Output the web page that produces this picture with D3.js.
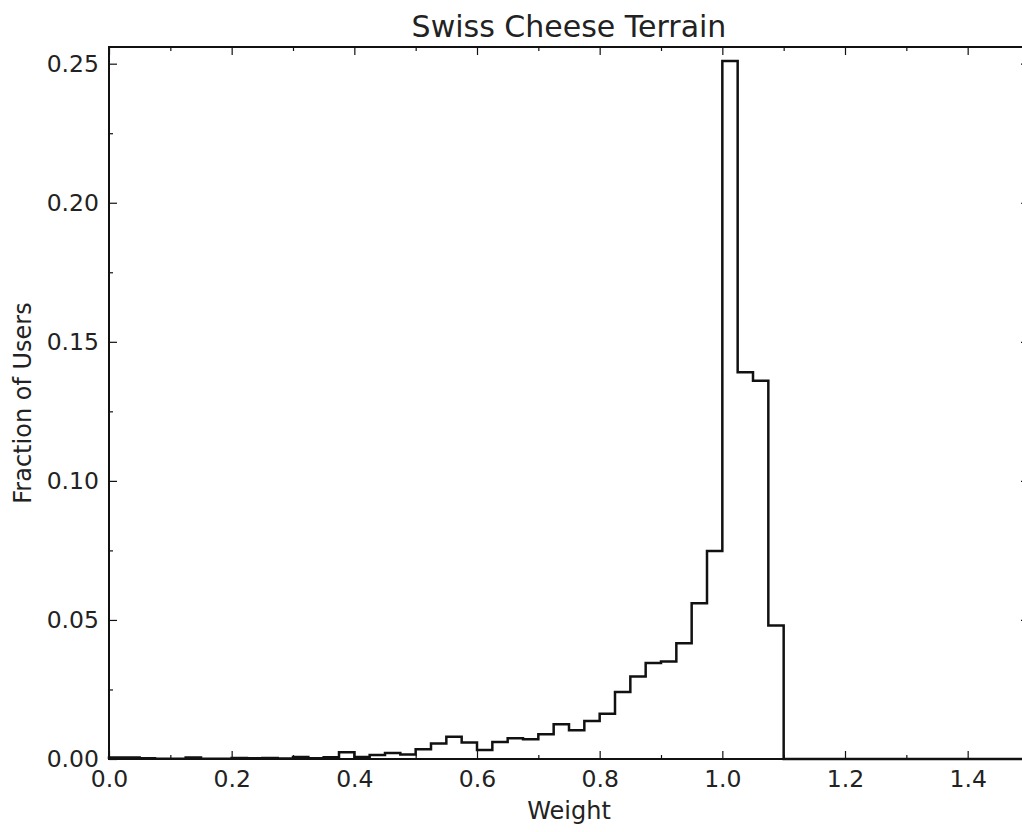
<!DOCTYPE html>
<html>
<head>
<meta charset="utf-8">
<script src="https://cdn.jsdelivr.net/npm/d3@7/dist/d3.min.js"></script>
<style>
  html, body { margin: 0; padding: 0; background: #fff; }
  svg { display: block; }
  text { font-family: "DejaVu Sans", sans-serif; fill: #222; }
</style>
</head>
<body>
<svg id="chart" width="1022" height="832"></svg>
<script>
// Histogram of user weights: fraction of users per 0.025-wide bin
const binWidth = 0.025;
const fractions = [
  0.0005, 0.0005, 0.0003, 0.0001, 0.0001, 0.0005, 0.0001, 0.0001, 0.0004, 0.0003,
  0.0004, 0.0002, 0.0007, 0.0003, 0.0006, 0.0024, 0.0007, 0.0014, 0.0022, 0.0016,
  0.0035, 0.0056, 0.0080, 0.0059, 0.0032, 0.0061, 0.0075, 0.0071, 0.0089, 0.0125,
  0.0103, 0.0137, 0.0163, 0.0241, 0.0297, 0.0345, 0.0351, 0.0416, 0.0560, 0.0748,
  0.2510, 0.1391, 0.1360, 0.0480
];
const histRange = [0, 1.5];
const xMajorTicks = [0.0, 0.2, 0.4, 0.6, 0.8, 1.0, 1.2, 1.4];
const xMinorTicks = [0.1, 0.3, 0.5, 0.7, 0.9, 1.1, 1.3, 1.5];
const yMajorTicks = [0.00, 0.05, 0.10, 0.15, 0.20, 0.25];
const yMinorTicks = [0.025, 0.075, 0.125, 0.175, 0.225];
const yMax = 0.256;

const svg = d3.select("#chart");
const plotL = 109, plotR = 1029, plotT = 47, plotB = 759;

const x = d3.scaleLinear().domain(histRange).range([plotL, plotR]);
const y = d3.scaleLinear().domain([0, yMax]).range([plotB, plotT]);

svg.append("rect").attr("width", 1022).attr("height", 832).attr("fill", "#fff");

// step outline of the histogram
const pts = [[histRange[0], 0]];
fractions.forEach((v, i) => pts.push([+(i * binWidth).toFixed(3), v]));
pts.push([+(fractions.length * binWidth).toFixed(3), 0]);
pts.push([histRange[1], 0]);

const line = d3.line()
  .x(d => x(d[0]))
  .y(d => y(d[1]))
  .curve(d3.curveStepAfter);

svg.append("path")
  .datum(pts)
  .attr("d", line)
  .attr("fill", "none")
  .attr("stroke", "#111")
  .attr("stroke-width", 2.5)
  .attr("stroke-linejoin", "miter");

// axes with inward ticks on all four sides
function styleAxis(g) {
  g.select(".domain").remove();
  g.selectAll(".tick line").attr("stroke", "#111").attr("stroke-width", 1.2);
  g.selectAll(".tick text")
    .style("font-family", "'DejaVu Sans', sans-serif")
    .style("font-size", "23.5px")
    .attr("fill", "#222");
}

svg.append("g").attr("transform", `translate(0,${plotB})`)
  .call(d3.axisBottom(x).tickValues(xMajorTicks).tickFormat(d3.format(".1f"))
    .tickSizeInner(-8).tickSizeOuter(0).tickPadding(11))
  .call(styleAxis);
svg.append("g").attr("transform", `translate(0,${plotB})`)
  .call(d3.axisBottom(x).tickValues(xMinorTicks).tickFormat("")
    .tickSizeInner(-4).tickSizeOuter(0))
  .call(styleAxis);
svg.append("g").attr("transform", `translate(0,${plotT})`)
  .call(d3.axisTop(x).tickValues(xMajorTicks).tickFormat("")
    .tickSizeInner(-8).tickSizeOuter(0))
  .call(styleAxis);
svg.append("g").attr("transform", `translate(0,${plotT})`)
  .call(d3.axisTop(x).tickValues(xMinorTicks).tickFormat("")
    .tickSizeInner(-4).tickSizeOuter(0))
  .call(styleAxis);

svg.append("g").attr("transform", `translate(${plotL},0)`)
  .call(d3.axisLeft(y).tickValues(yMajorTicks).tickFormat(d3.format(".2f"))
    .tickSizeInner(-8).tickSizeOuter(0).tickPadding(10))
  .call(styleAxis);
svg.append("g").attr("transform", `translate(${plotL},0)`)
  .call(d3.axisLeft(y).tickValues(yMinorTicks).tickFormat("")
    .tickSizeInner(-4).tickSizeOuter(0))
  .call(styleAxis);
svg.append("g").attr("transform", `translate(${plotR},0)`)
  .call(d3.axisRight(y).tickValues(yMajorTicks).tickFormat("")
    .tickSizeInner(-8).tickSizeOuter(0))
  .call(styleAxis);
svg.append("g").attr("transform", `translate(${plotR},0)`)
  .call(d3.axisRight(y).tickValues(yMinorTicks).tickFormat("")
    .tickSizeInner(-4).tickSizeOuter(0))
  .call(styleAxis);

// frame
svg.append("rect")
  .attr("x", plotL).attr("y", plotT)
  .attr("width", plotR - plotL).attr("height", plotB - plotT)
  .attr("fill", "none").attr("stroke", "#111").attr("stroke-width", 2);

// title and axis labels
svg.append("text")
  .attr("x", (plotL + plotR) / 2).attr("y", 37)
  .attr("text-anchor", "middle")
  .style("font-size", "30px")
  .text("Swiss Cheese Terrain");

svg.append("text")
  .attr("x", (plotL + plotR) / 2).attr("y", 819)
  .attr("text-anchor", "middle")
  .style("font-size", "24px")
  .text("Weight");

svg.append("text")
  .attr("transform", `translate(31,${(plotT + plotB) / 2}) rotate(-90)`)
  .attr("text-anchor", "middle")
  .style("font-size", "24px")
  .text("Fraction of Users");
</script>
</body>
</html>
